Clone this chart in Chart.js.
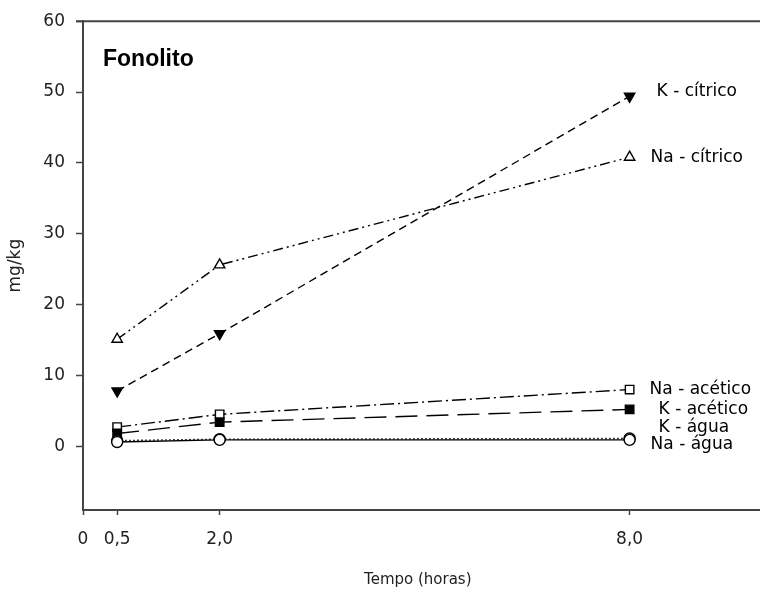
<!DOCTYPE html>
<html lang="pt-BR">
<head>
    <meta charset="UTF-8">
    <title>Fonolito</title>
    <script src="https://cdn.jsdelivr.net/npm/chart.js@4.4.1/dist/chart.umd.min.js"></script>
    <style>
        html, body { margin: 0; padding: 0; background: #fff; }
        .chart-container { position: relative; width: 760px; height: 592px; }
    </style>
</head>
<body>
    <div class="chart-container">
        <canvas id="fonolitoChart"></canvas>
    </div>

    <script>
        // Dados
        const tempos = [0.5, 2.0, 8.0];
        const kCitrico = [7.8, 15.9, 49.4];
        const naCitrico = [15.1, 25.6, 40.8];
        const naAcetico = [2.7, 4.5, 8.0];
        const kAcetico = [1.8, 3.4, 5.2];
        const kAgua = [0.6, 0.9, 0.9];
        const naAgua = [0.8, 1.0, 1.1];

        const xTicks = [0, 0.5, 2.0, 8.0];
        const yTicks = [0, 10, 20, 30, 40, 50, 60];

        const rotulos = ['K - cítrico', 'Na - cítrico', 'Na - acético', 'K - acético', 'K - água', 'Na - água'];
        const rotulosY = [50, 40.8, 8.0, 5.2, 2.7, 0.3];

        const fonte = 'DejaVu Sans';
        const virgula = v => v === 0 ? '0' : v.toFixed(1).replace('.', ',');
        const pontos = arr => tempos.map((t, i) => ({ x: t, y: arr[i] }));

        const serie = (label, data, dash, style, filled, rot) => ({
            label,
            data: pontos(data),
            borderColor: '#000',
            borderWidth: 1.4,
            borderDash: dash,
            pointStyle: style,
            pointRotation: rot || 0,
            pointRadius: style === 'circle' ? 5.5 : 6,
            pointBorderWidth: 1.4,
            pointBorderColor: '#000',
            pointBackgroundColor: filled ? '#000' : '#fff',
            tension: 0
        });

        // textos e moldura (os eixos continuam até a borda da figura)
        const extras = {
            id: 'extras',
            afterDraw(chart) {
                const { ctx, chartArea, scales } = chart;
                ctx.save();
                ctx.strokeStyle = '#444';
                ctx.lineWidth = 2;
                ctx.beginPath();
                ctx.moveTo(76, chartArea.top);
                ctx.lineTo(chart.width, chartArea.top);
                ctx.moveTo(chartArea.right - 1, chartArea.bottom);
                ctx.lineTo(chart.width, chartArea.bottom);
                ctx.stroke();

                ctx.fillStyle = '#000';
                ctx.font = 'bold 23px "Liberation Sans"';
                ctx.textBaseline = 'alphabetic';
                ctx.fillText('Fonolito', 103, 66);

                ctx.font = '17px "' + fonte + '"';
                ctx.textBaseline = 'middle';
                const dx = [27, 21, 20, 29, 29, 21];
                const x8 = scales.x.getPixelForValue(8);
                rotulos.forEach((r, i) => {
                    ctx.fillText(r, x8 + dx[i], scales.y.getPixelForValue(rotulosY[i]));
                });
                ctx.restore();
            }
        };

        new Chart(document.getElementById('fonolitoChart'), {
            type: 'line',
            data: {
                datasets: [
                    serie('K - água', kAgua, [], 'circle', false),
                    serie('Na - água', naAgua, [1.5, 2.5], 'circle', false),
                    serie('K - acético', kAcetico, [22, 9], 'rect', true),
                    serie('Na - acético', naAcetico, [14, 4, 2, 4], 'rect', false),
                    serie('Na - cítrico', naCitrico, [10, 4, 2, 4, 2, 4], 'triangle', false),
                    serie('K - cítrico', kCitrico, [8, 5], 'triangle', true, 180)
                ]
            },
            options: {
                responsive: true,
                maintainAspectRatio: false,
                animation: false,
                layout: { padding: { top: 20, left: 0, right: 0, bottom: 0 } },
                plugins: {
                    legend: { display: false },
                    tooltip: { enabled: false }
                },
                scales: {
                    x: {
                        type: 'linear',
                        min: 0,
                        max: 9.8,
                        afterBuildTicks: s => { s.ticks = xTicks.map(v => ({ value: v })); },
                        afterFit: s => { s.height = 82; },
                        grid: { drawOnChartArea: false, drawTicks: true, tickLength: 5, tickColor: '#444', tickWidth: 1.5 },
                        border: { color: '#444', width: 2 },
                        ticks: {
                            callback: v => virgula(v),
                            color: '#222',
                            font: { family: fonte, size: 17 },
                            padding: 14,
                            maxRotation: 0,
                            autoSkip: false
                        },
                        title: {
                            display: true,
                            text: 'Tempo (horas)',
                            color: '#222',
                            font: { family: fonte, size: 15 },
                            padding: { top: 0, bottom: 3 }
                        }
                    },
                    y: {
                        min: -9,
                        max: 60,
                        afterBuildTicks: s => { s.ticks = yTicks.map(v => ({ value: v })); },
                        afterFit: s => { s.width = 83; },
                        grid: { drawOnChartArea: false, drawTicks: true, tickLength: 7, tickColor: '#444', tickWidth: 1.5 },
                        border: { color: '#444', width: 2 },
                        ticks: {
                            color: '#222',
                            font: { family: fonte, size: 17 },
                            padding: 11
                        },
                        title: {
                            display: true,
                            text: 'mg/kg',
                            color: '#222',
                            font: { family: fonte, size: 17 },
                            padding: { top: 5, bottom: 0 }
                        }
                    }
                }
            },
            plugins: [extras]
        });
    </script>
</body>
</html>
